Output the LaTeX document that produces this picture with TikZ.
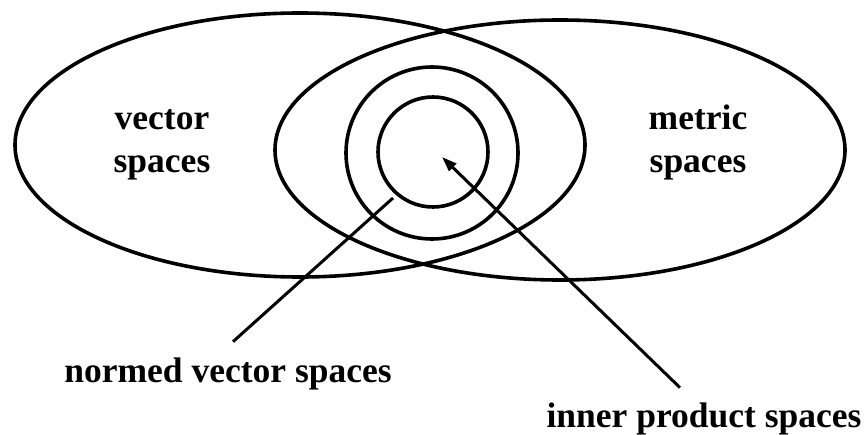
\documentclass[tikz,border=0pt]{standalone}
\usepackage{fontspec}
\setmainfont{Liberation Serif}
\usetikzlibrary{shapes.geometric,arrows.meta}
\begin{document}
\begin{tikzpicture}[x=1pt,y=-1pt,
  setline/.style={draw=black,line width=3.6pt,inner sep=0pt,outer sep=0pt},
  lbl/.style={font=\bfseries\fontsize{35.5}{40}\selectfont,inner sep=0pt,anchor=base},
  conn/.style={draw=black,line width=3pt},
  arr/.style={conn,-{Triangle[length=15pt,width=10pt]}}]
\useasboundingbox (0,0) rectangle (864,435);
% sets
\node[setline,ellipse,minimum width=570pt,minimum height=264pt] (vecset) at (300,145) {};
\node[setline,ellipse,minimum width=570pt,minimum height=260pt] (metset) at (560,150) {};
\node[setline,circle,minimum size=172pt] (normset) at (432,153) {};
\node[setline,circle,minimum size=110pt] (innerset) at (433,152) {};
% labels
\node[lbl] (vs1) at (162,130) {vector};
\node[lbl] (vs2) at (162,173) {spaces};
\node[lbl] (ms1) at (698,130) {metric};
\node[lbl] (ms2) at (698,173) {spaces};
\node[lbl] (nvs) at (228,382) {normed vector spaces};
\node[lbl] (ips) at (704,427) {inner product spaces};
% pointers
\coordinate (nvtip) at (393,198);
\coordinate (iptip) at (442,157);
\draw[conn] ([xshift=5pt,yshift=15.5pt]nvs.north) -- (nvtip);
\draw[arr] ([xshift=-24pt,yshift=14.5pt]ips.north) -- (iptip);
\end{tikzpicture}
\end{document}
